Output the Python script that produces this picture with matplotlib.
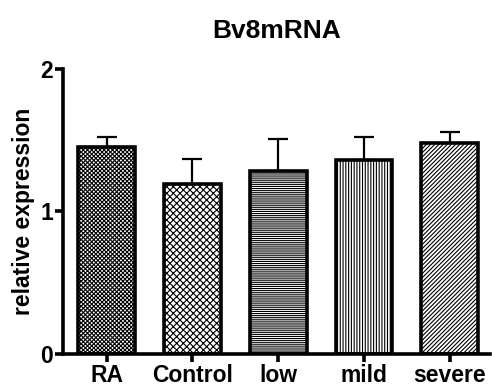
import matplotlib.pyplot as plt
import numpy as np

plt.rcParams['font.family'] = ['Liberation Sans', 'DejaVu Sans']
plt.rcParams['hatch.color'] = '#444444'
plt.rcParams['hatch.linewidth'] = 0.8

groups = ['RA', 'Control', 'low', 'mild', 'severe']
means = [1.45, 1.19, 1.28, 1.36, 1.48]
errors = [0.07, 0.18, 0.23, 0.16, 0.08]
hatches = ['xxxxxxxx', 'xxxxx', '--------', '||||||', '////////']

fig = plt.figure(figsize=(4.92, 3.85), dpi=100)
ax = fig.add_axes([0.128, 0.081, 0.868, 0.74])

x = np.arange(len(groups))
ax.errorbar(x, means, yerr=[np.zeros(len(errors)), errors], fmt='none',
            ecolor='black', elinewidth=1.6, capsize=7, capthick=1.6, zorder=1)
ax.bar(x, means, width=0.66, color='white', edgecolor='black',
       linewidth=2.6, hatch=hatches, zorder=2)

ax.set_xlim(-0.51, 4.47)
ax.set_ylim(0, 2)
ax.set_yticks([0, 1, 2])
ax.set_xticks(x)
ax.set_xticklabels(groups)
for lab in ax.get_xticklabels() + ax.get_yticklabels():
    lab.set_fontweight('bold')
    lab.set_fontsize(16.5)

ax.spines['top'].set_visible(False)
ax.spines['right'].set_visible(False)
ax.spines['left'].set_linewidth(2.6)
ax.spines['bottom'].set_linewidth(2.6)
ax.tick_params(axis='both', width=2.6, length=6, pad=1)

ax.set_ylabel('relative expression', fontsize=16.5, fontweight='bold', labelpad=4)
ax.set_title('Bv8mRNA', fontsize=19, fontweight='bold', pad=22)

fig.savefig('out.png')
